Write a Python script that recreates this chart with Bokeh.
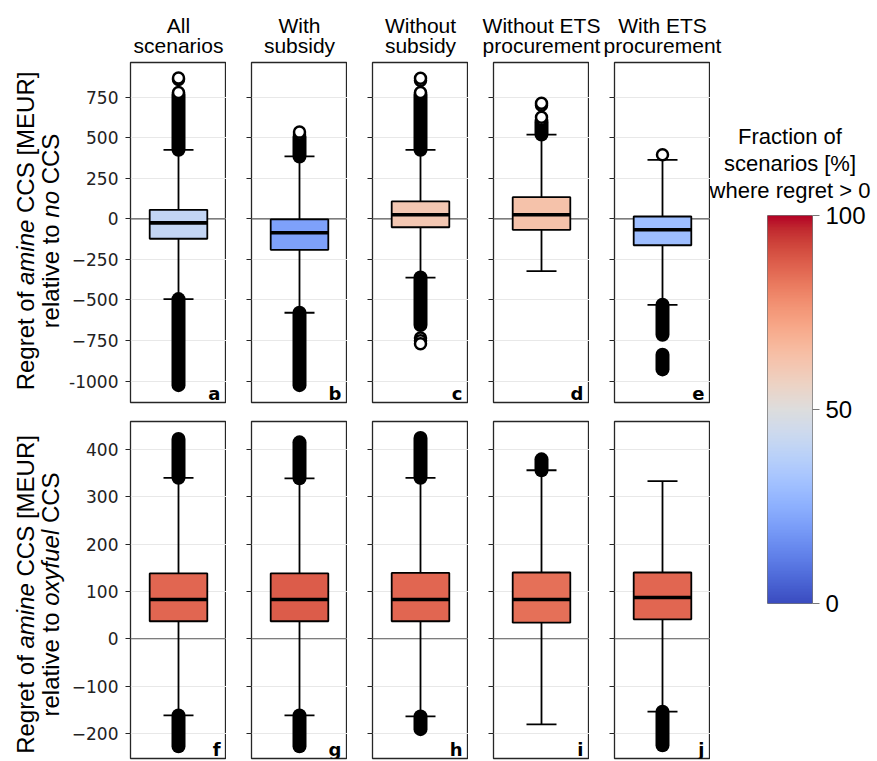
import numpy as np
from bokeh.plotting import figure
from bokeh.models import (Range1d, FixedTicker, Span, Label, ColumnDataSource,
                          LinearColorMapper, CustomJSTickFormatter, Title)
from bokeh.layouts import row, column
from bokeh.transform import linear_cmap
from bokeh.core.properties import value
from bokeh.embed import file_html
from bokeh.resources import INLINE

# ---------------- data ----------------
COL_TITLES = ["All\nscenarios", "With\nsubsidy", "Without\nsubsidy",
              "Without ETS\nprocurement", "With ETS\nprocurement"]
TOP_LETTERS = ["a", "b", "c", "d", "e"]
BOT_LETTERS = ["f", "g", "h", "i", "j"]

# row 1: regret of amine CCS relative to no CCS [MEUR]
TOP_Q1 = [-123, -191, -52, -68, -163]
TOP_MED = [-25, -86, 25, 25, -68]
TOP_Q3 = [55, -4, 107, 133, 14]
TOP_WLO = [-495, -579, -362, -323, -530]
TOP_WHI = [425, 384, 425, 519, 363]
TOP_FRAC = [41, 21, 61, 63, 30]          # % of scenarios where regret > 0
TOP_DENSE = [[(-1025, -495), (425, 765)],
             [(-1025, -579), (384, 505)],
             [(-655, -362), (425, 765)],
             [(519, 595)],
             [(-715, -530), (-928, -838)]]
TOP_POINTS = [[778, 858, 868],
              [522, 534],
              [778, 852, 866, -735, -752, -770],
              [612, 626, 700, 712],
              [395]]
TOP_YR = (-1132, 963)
TOP_TICKS = [-1000, -750, -500, -250, 0, 250, 500, 750]
TOP_TICK_LABELS = ["-1000", "\u2212750", "\u2212500", "\u2212250", "0", "250", "500", "750"]

# row 2: regret of amine CCS relative to oxyfuel CCS [MEUR]
BOT_Q1 = [37, 37, 37, 34, 41]
BOT_MED = [83, 83, 83, 83, 87]
BOT_Q3 = [138, 138, 139, 140, 140]
BOT_WLO = [-162, -162, -164, -181, -154]
BOT_WHI = [340, 339, 340, 356, 333]
BOT_FRAC = [86, 88, 86, 84, 86]
BOT_DENSE = [[(-227, -162), (340, 422)],
             [(-227, -162), (339, 415)],
             [(-191, -164), (340, 424)],
             [(356, 379)],
             [(-225, -154)]]
BOT_POINTS = [[], [], [], [], []]
BOT_YR = (-253, 459)
BOT_TICKS = [-200, -100, 0, 100, 200, 300, 400]
BOT_TICK_LABELS = ["\u2212200", "\u2212100", "0", "100", "200", "300", "400"]

CB_TICKS = [0, 50, 100]
CB_TITLE = ["Fraction of", "scenarios [%]", "where regret > 0"]

YLABEL_TOP = [[("Regret of ", "normal"), ("amine", "italic"), (" CCS [MEUR]", "normal")],
              [("relative to ", "normal"), ("no", "italic"), (" CCS", "normal")]]
YLABEL_BOT = [[("Regret of ", "normal"), ("amine", "italic"), (" CCS [MEUR]", "normal")],
              [("relative to ", "normal"), ("oxyfuel", "italic"), (" CCS", "normal")]]

# ---------------- style ----------------
COOLWARM = [(59, 76, 192), (68, 90, 204), (77, 104, 215), (87, 117, 225), (98, 130, 234),
            (108, 142, 241), (119, 154, 247), (130, 165, 251), (141, 176, 254), (152, 185, 255),
            (163, 194, 255), (174, 201, 253), (184, 208, 249), (194, 213, 244), (204, 217, 238),
            (213, 219, 230), (221, 221, 221), (229, 216, 209), (236, 211, 197), (241, 204, 185),
            (245, 196, 173), (247, 187, 160), (247, 177, 148), (247, 166, 135), (244, 154, 123),
            (241, 141, 111), (236, 127, 99), (229, 112, 88), (222, 96, 77), (213, 80, 66),
            (203, 62, 56), (192, 40, 47), (180, 4, 38)]
_pos = np.linspace(0, 1, len(COOLWARM))
_t = np.linspace(0, 1, 256)
_ch = [np.interp(_t, _pos, [c[k] for c in COOLWARM]) for k in range(3)]
PALETTE = ["#%02x%02x%02x" % (int(round(r)), int(round(g)), int(round(b)))
           for r, g, b in zip(*_ch)]

SANS = "Liberation Sans"
TICKFONT = "DejaVu Sans"
YLAB_W = 66            # width of the y-label strip
LEFT_A = 64            # left border of first panel (tick labels)
FRAME_W = 96
GAP = 25
TOP_FRAME_H = 340
BOT_FRAME_H = 337
HEADER_H = 61
BOX_W = 0.6
CAP_PX = 30
XC = 0.5
FRAME_COLOR = "#262626"
BASE_FIX = 7           # renderer's alphabetic-baseline drift (px)

# Liberation Sans advance widths (1/1000 em) for y-label layout
ADV = {' ': 278, 'R': 722, 'e': 556, 'g': 556, 'r': 333, 't': 278, 'o': 556, 'f': 278,
       'a': 556, 'm': 833, 'i': 222, 'n': 556, 'C': 722, 'S': 667, '[': 278, ']': 278,
       'M': 833, 'E': 667, 'U': 722, 'l': 222, 'v': 500, 'x': 500, 'y': 500, 'u': 556}
YL_FS = 24


def tw(s, fs):
    return sum(ADV.get(c, 556) for c in s) * fs / 1000.0


def blank(w, h):
    f = figure(width=w, height=h, x_range=Range1d(0, w), y_range=Range1d(0, h),
               output_backend="svg", toolbar_location=None, tools="",
               x_axis_location=None, y_axis_location=None, min_border=0)
    f.outline_line_color = None
    f.grid.grid_line_color = None
    return f


def make_panel(i, is_top):
    first = i == 0
    q1 = (TOP_Q1 if is_top else BOT_Q1)[i]
    med = (TOP_MED if is_top else BOT_MED)[i]
    q3 = (TOP_Q3 if is_top else BOT_Q3)[i]
    wlo = (TOP_WLO if is_top else BOT_WLO)[i]
    whi = (TOP_WHI if is_top else BOT_WHI)[i]
    frac = (TOP_FRAC if is_top else BOT_FRAC)[i]
    dense = (TOP_DENSE if is_top else BOT_DENSE)[i]
    pts = (TOP_POINTS if is_top else BOT_POINTS)[i]
    yr = TOP_YR if is_top else BOT_YR
    ticks = TOP_TICKS if is_top else BOT_TICKS
    tlabels = TOP_TICK_LABELS if is_top else BOT_TICK_LABELS
    letter = (TOP_LETTERS if is_top else BOT_LETTERS)[i]
    fh = TOP_FRAME_H if is_top else BOT_FRAME_H
    lb = LEFT_A if first else GAP
    tb = 1
    bb = 18 if is_top else 2

    p = figure(width=lb + FRAME_W, height=tb + fh + bb,
               x_range=Range1d(0, 1), y_range=Range1d(*yr),
               output_backend="svg", toolbar_location=None, tools="",
               x_axis_location=None,
               min_border_left=lb, min_border_right=0,
               min_border_top=tb, min_border_bottom=bb)
    p.outline_line_color = FRAME_COLOR
    p.outline_line_width = 1.3
    p.xgrid.grid_line_color = None
    p.ygrid.grid_line_color = "#e8e8e8"
    p.ygrid.grid_line_width = 1.2

    ax = p.yaxis[0]
    ax.ticker = FixedTicker(ticks=ticks)
    ax.axis_line_color = None
    ax.major_tick_out = 5
    ax.major_tick_in = 0
    ax.major_tick_line_color = FRAME_COLOR
    ax.major_tick_line_width = 1.2
    ax.minor_tick_line_color = None
    if first:
        ax.major_label_overrides = dict(zip(ticks, tlabels))
        ax.major_label_text_font = TICKFONT
        ax.major_label_text_font_size = "17px"
        ax.major_label_text_color = "#222222"
        ax.major_label_standoff = 7
    else:
        ax.formatter = CustomJSTickFormatter(code="return ''")
        ax.major_label_standoff = 0

    p.add_layout(Span(location=0, dimension="width", line_color="#5a5a5a",
                      line_width=1.2, level="underlay"))

    src = ColumnDataSource(dict(x=[XC], q1=[q1], q3=[q3], med=[med],
                                wlo=[wlo], whi=[whi], frac=[frac]))
    p.segment(x0="x", y0="q3", x1="x", y1="whi", source=src, line_color="black", line_width=1.8)
    p.segment(x0="x", y0="q1", x1="x", y1="wlo", source=src, line_color="black", line_width=1.8)
    p.scatter(x="x", y="whi", source=src, marker="dash", size=CAP_PX,
              line_color="black", line_width=1.8)
    p.scatter(x="x", y="wlo", source=src, marker="dash", size=CAP_PX,
              line_color="black", line_width=1.8)
    if dense:
        dsrc = ColumnDataSource(dict(x=[XC] * len(dense),
                                     lo=[d[0] for d in dense], hi=[d[1] for d in dense]))
        p.segment(x0="x", y0="lo", x1="x", y1="hi", source=dsrc, line_color="black",
                  line_width=14, line_cap="round")
    if pts:
        p.scatter(x=[XC] * len(pts), y=pts, marker="circle", size=11,
                  fill_color="white", line_color="black", line_width=2.5)
    p.vbar(x="x", width=BOX_W, bottom="q1", top="q3", source=src,
           fill_color=linear_cmap("frac", PALETTE, 0, 100),
           line_color="black", line_width=1.8)
    p.scatter(x="x", y="med", source=src, marker="dash", size=BOX_W * FRAME_W,
              line_color="black", line_width=3.6)

    p.add_layout(Label(x=1, y=yr[0], x_offset=-6, y_offset=9, text=letter,
                       text_align="right", text_baseline="alphabetic",
                       text_font="DejaVu Sans", text_font_size="18px",
                       text_font_style="bold", text_color="black"))
    return p


top_figs = [make_panel(i, True) for i in range(5)]
bot_figs = [make_panel(i, False) for i in range(5)]
rows_h = (1 + TOP_FRAME_H + 18) + (1 + BOT_FRAME_H + 2)

# ---- header with column titles ----
header_w = 870
header = blank(header_w, HEADER_H)
centers = [YLAB_W + LEFT_A + i * (FRAME_W + GAP) + FRAME_W / 2.0 for i in range(5)]
line1 = [t.split("\n")[0] for t in COL_TITLES]
line2 = [t.split("\n")[1] for t in COL_TITLES]
for txt, base in ((line1, 32), (line2, 52)):
    header.text(x=centers, y=[HEADER_H - base + BASE_FIX] * 5, text=txt,
                text_font=value(SANS), text_font_size="21px", text_align="center",
                text_baseline="alphabetic", text_color="black")

# ---- y-label strip ----
ylab = blank(YLAB_W, rows_h)
for pieces, yc in ((YLABEL_TOP, rows_h - (230.5 - HEADER_H)),
                   (YLABEL_BOT, rows_h - (594 - HEADER_H))):
    for li, line in enumerate(pieces):
        xb = (32, 57)[li] - BASE_FIX
        total = sum(tw(s, YL_FS) for s, _ in line)
        yy = yc - total / 2.0
        for s, style in line:
            lead = len(s) - len(s.lstrip())
            ylab.text(x=[xb], y=[yy + tw(s[:lead], YL_FS)], text=[s.strip()],
                      angle=np.pi / 2,
                      text_font=value(SANS), text_font_size="%dpx" % YL_FS,
                      text_font_style=style, text_align="left",
                      text_baseline="alphabetic", text_color="black")
            yy += tw(s, YL_FS)

# ---- colour bar ----
CB_W = 166
cb_top = 154
cb_fh = 388
cb = figure(width=CB_W, height=rows_h, x_range=Range1d(0, 1), y_range=Range1d(0, 100),
            output_backend="svg", toolbar_location=None, tools="",
            x_axis_location=None, y_axis_location="right",
            min_border_left=57, min_border_right=64, min_border_top=cb_top,
            min_border_bottom=rows_h - cb_top - cb_fh)
cb.title.text = ""
cb.add_layout(Title(text="\u00a0", text_font=SANS, text_font_size="10px", standoff=0), "above")
for txt in reversed(CB_TITLE):
    cb.add_layout(Title(text=txt, align="center", offset=3.5,
                        text_font=SANS, text_font_size="22px", text_font_style="normal",
                        text_color="black", standoff=0), "above")
cb.outline_line_color = "#777777"
cb.outline_line_width = 1
cb.grid.grid_line_color = None
grad = np.linspace(0, 100, 256).reshape(-1, 1)
cb.image(image=[grad], x=0, y=0, dw=1, dh=100,
         color_mapper=LinearColorMapper(palette=PALETTE, low=0, high=100))
cax = cb.yaxis[0]
cax.ticker = FixedTicker(ticks=CB_TICKS)
cax.axis_line_color = None
cax.major_tick_out = 7
cax.major_tick_in = 0
cax.major_tick_line_color = "#777777"
cax.minor_tick_line_color = None
cax.major_label_text_font = SANS
cax.major_label_text_font_size = "24px"
cax.major_label_text_color = "black"
cax.major_label_standoff = 6

layout = column(header,
                row(row(ylab, column(row(*top_figs), row(*bot_figs))), cb))

open("out.html", "w").write(file_html(layout, INLINE))
